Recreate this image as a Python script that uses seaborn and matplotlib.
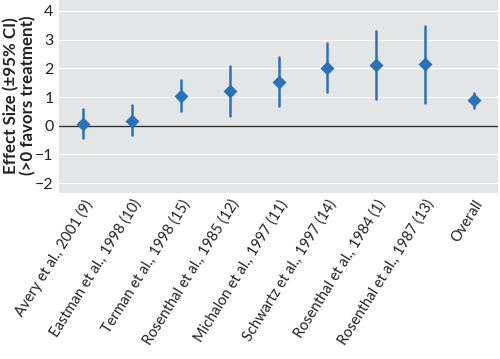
import numpy as np
import pandas as pd
import matplotlib.pyplot as plt
import seaborn as sns

studies = ["Avery et al., 2001 (9)", "Eastman et al., 1998 (10)", "Terman et al., 1998 (15)",
           "Rosenthal et al., 1985 (12)", "Michalon et al., 1997 (11)", "Schwartz et al., 1997 (14)",
           "Rosenthal et al., 1984 (1)", "Rosenthal et al., 1987 (13)", "Overall"]
effect = [0.06, 0.18, 1.02, 1.21, 1.54, 2.01, 2.10, 2.15, 0.88]
ci_low = [-0.43, -0.32, 0.50, 0.35, 0.67, 1.17, 0.94, 0.79, 0.62]
ci_high = [0.58, 0.72, 1.59, 2.07, 2.39, 2.88, 3.29, 3.48, 1.14]

# long table: low / estimate / high per study, median -> estimate, min/max -> CI
rows = []
for s, lo, e, hi in zip(studies, ci_low, effect, ci_high):
    for v in (lo, e, hi):
        rows.append({"study": s, "value": v})
data = pd.DataFrame(rows)

sns.set_style("darkgrid", {"axes.facecolor": "#e4e5e7", "grid.color": "white"})
plt.rcParams['font.family'] = ['Lato', 'DejaVu Sans']

fig = plt.figure(figsize=(5, 3.59), dpi=100)
ax = fig.add_axes([0.118, 0.462, 0.878, 0.538])

ax.axhline(0, color="#333333", lw=1.0, zorder=1)
sns.pointplot(data=data, x="study", y="value", order=studies,
              estimator=np.median, errorbar=lambda v: (v.min(), v.max()),
              linestyle="none", markers="D", markersize=5, color="#2a72b8",
              err_kws={"linewidth": 1.8}, ax=ax)

ax.set_ylim(-2.35, 4.38)
ax.set_xlim(-0.5, 8.5)
ax.set_yticks([-2, -1, 0, 1, 2, 3, 4])
ax.set_yticklabels(["\u22122", "\u22121", "0", "1", "2", "3", "4"])
ax.xaxis.grid(False)
ax.set_xlabel("")
ax.set_ylabel("")
fig.text(0.040, 0.735, "Effect Size (\u00b195% CI)\n(>0 favors treatment)", fontsize=12.2,
         fontweight="bold", linespacing=1.05, rotation=90, ha="center", va="center",
         color="#222222")
ax.tick_params(axis="x", length=0, labelsize=10.5, colors="#222222", pad=3)
ax.tick_params(axis="y", length=0, labelsize=11.5, colors="#222222", pad=4)
plt.setp(ax.get_xticklabels(), rotation=58, ha="right", rotation_mode="anchor")
for sp in ax.spines.values():
    sp.set_visible(False)

fig.savefig("out.png", dpi=100)
